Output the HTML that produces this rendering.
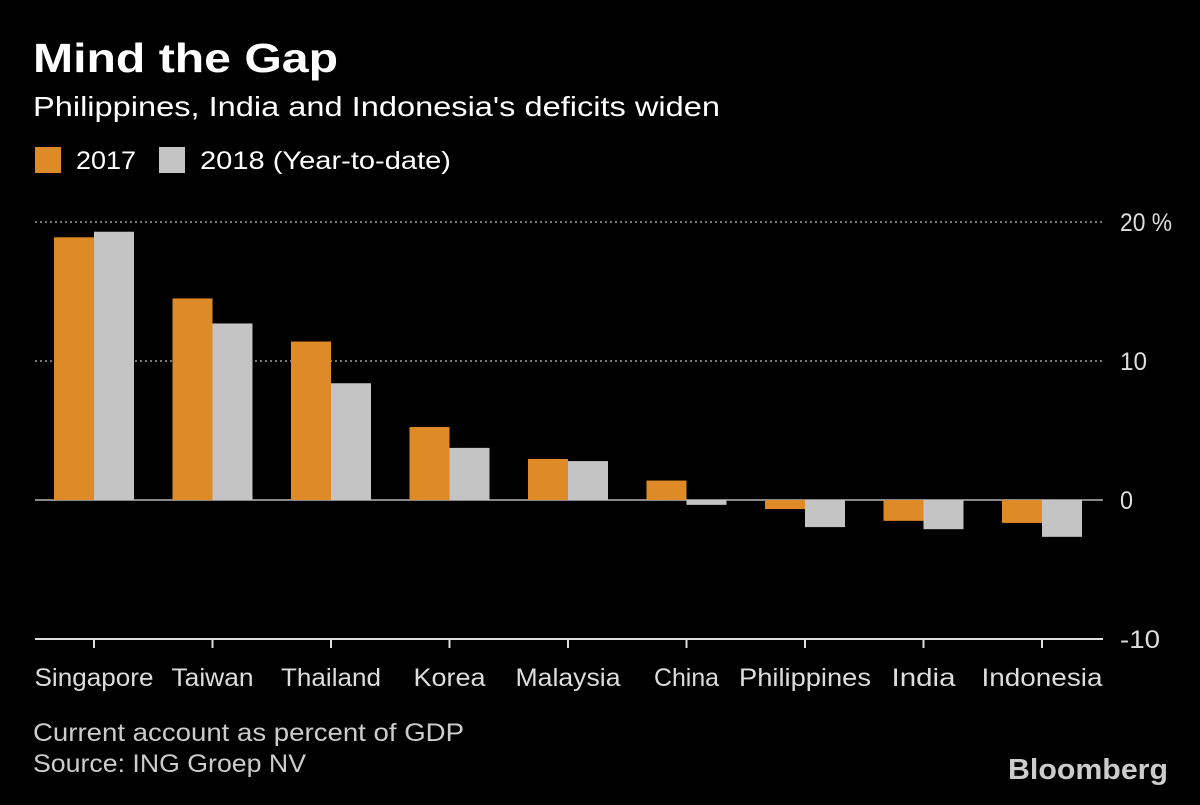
<!DOCTYPE html>
<html><head><meta charset="utf-8">
<style>
html,body{margin:0;padding:0;background:#000;}
body{width:1200px;height:800px;overflow:hidden;font-family:"Liberation Sans",sans-serif;color:#fff;}
</style></head>
<body>
<svg id="chart" width="1200" height="800" xmlns="http://www.w3.org/2000/svg">
<rect width="1200" height="800" fill="#000"/>
<text x="33" y="72" font-size="41" font-weight="bold" fill="#fff" font-family="Liberation Sans, sans-serif" textLength="305" lengthAdjust="spacingAndGlyphs">Mind the Gap</text>
<text x="33" y="116" font-size="28" fill="#fff" font-family="Liberation Sans, sans-serif" textLength="687" lengthAdjust="spacingAndGlyphs">Philippines, India and Indonesia's deficits widen</text>
<g>
<rect x="35" y="147" width="26" height="26" fill="#dd8a27"/>
<text x="76" y="169" font-size="25" fill="#fff" font-family="Liberation Sans, sans-serif" textLength="60" lengthAdjust="spacingAndGlyphs">2017</text>
<rect x="159" y="147" width="26" height="26" fill="#c4c4c4"/>
<text x="200" y="169" font-size="25" fill="#fff" font-family="Liberation Sans, sans-serif" textLength="251" lengthAdjust="spacingAndGlyphs">2018 (Year-to-date)</text>
</g>
<g id="plot"></g>
<text x="33" y="741" font-size="25" fill="#ccc" font-family="Liberation Sans, sans-serif" textLength="431" lengthAdjust="spacingAndGlyphs">Current account as percent of GDP</text>
<text x="33" y="772" font-size="25" fill="#ccc" font-family="Liberation Sans, sans-serif" textLength="273" lengthAdjust="spacingAndGlyphs">Source: ING Groep NV</text>
<text x="1008" y="779" font-size="29" font-weight="bold" fill="#ccc" font-family="Liberation Sans, sans-serif" textLength="160" lengthAdjust="spacingAndGlyphs">Bloomberg</text>
</svg>
<script>
const categories = ["Singapore","Taiwan","Thailand","Korea","Malaysia","China","Philippines","India","Indonesia"];
const values2017 = [18.9,14.5,11.4,5.25,2.95,1.4,-0.65,-1.5,-1.65];
const values2018 = [19.3,12.7,8.4,3.75,2.8,-0.35,-1.95,-2.1,-2.65];
const tickValues = [20,10,0,-10];
const tickLabels = ["20 %","10","0","-10"];

const catLabelWidths = [119,82,100,72,105,65,132,64,121];
const tickLabelWidths = [52,27,13,40];
const NS="http://www.w3.org/2000/svg";
const g=document.getElementById('plot');
const yZero=500, pxPerUnit=13.9;
function y(v){return yZero - v*pxPerUnit;}
function xc(i){return 94 + i*118.5;}
const barW=40, left=35, right=1103;
function mk(tag,attrs){const e=document.createElementNS(NS,tag);for(const k in attrs)e.setAttribute(k,attrs[k]);g.appendChild(e);return e;}

tickValues.forEach((v,i)=>{
  let line;
  if(v===0){line=mk('line',{x1:left,x2:right,y1:y(v),y2:y(v),stroke:'#888','stroke-width':2});}
  else if(v===-10){line=mk('line',{x1:left,x2:right,y1:y(v),y2:y(v),stroke:'#ddd','stroke-width':2});}
  else{line=mk('line',{x1:left,x2:right,y1:y(v),y2:y(v),stroke:'#777','stroke-width':2,'stroke-dasharray':'2,3'});}
  
  
  const t=mk('text',{x:1120,y:y(v)+9,'font-size':25,fill:'#ddd','font-family':'Liberation Sans, sans-serif',textLength:tickLabelWidths[i],lengthAdjust:'spacingAndGlyphs'});
  t.textContent=tickLabels[i];
  
  
});

categories.forEach((c,i)=>{
  const cx=xc(i);
  const v1=values2017[i], v2=values2018[i];
  const b1=mk('rect',{x:cx-barW,y:Math.min(y(v1),yZero),width:barW,height:Math.abs(y(v1)-yZero),fill:'#dd8a27'});
  
  
  const b2=mk('rect',{x:cx,y:Math.min(y(v2),yZero),width:barW,height:Math.abs(y(v2)-yZero),fill:'#c4c4c4'});
  
  
  const tk=mk('line',{x1:cx,x2:cx,y1:y(-10),y2:y(-10)+9,stroke:'#ddd','stroke-width':2});
  
  
  const w=catLabelWidths[i];
  const t=mk('text',{x:cx-w/2,y:686,'font-size':25,fill:'#ddd','font-family':'Liberation Sans, sans-serif',textLength:w,lengthAdjust:'spacingAndGlyphs'});
  t.textContent=c;
  
  
});
</script>
</body></html>
